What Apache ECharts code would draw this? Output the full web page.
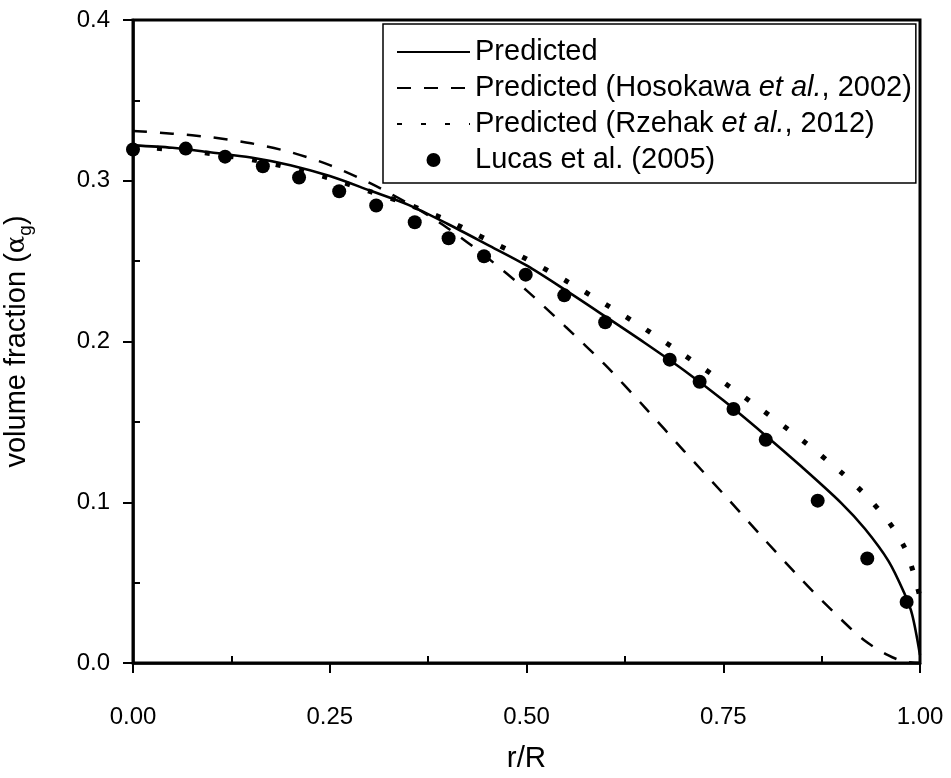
<!DOCTYPE html>
<html>
<head>
<meta charset="utf-8">
<script src="https://cdn.jsdelivr.net/npm/echarts@6/dist/echarts.min.js"></script>
<style>
  html, body { margin: 0; padding: 0; background: #fff; }
  #chart { width: 951px; height: 778px; }
</style>
</head>
<body>
<div id="chart"></div>
<script>
// ---- Data ----
const seriesNames = [
  'Predicted',
  'Predicted (Hosokawa et al., 2002)',
  'Predicted (Rzehak et al., 2012)',
  'Lucas et al. (2005)'
];

const xPred = [0, 0.05, 0.1, 0.15, 0.2, 0.25, 0.3, 0.35, 0.4, 0.45, 0.5, 0.55, 0.6, 0.65, 0.7, 0.75, 0.8, 0.85, 0.9, 0.93, 0.96, 0.98, 0.99, 1.0];
const yPred = [0.322, 0.3205, 0.3176, 0.3145, 0.3097, 0.3029, 0.2941, 0.285, 0.2731, 0.2603, 0.2473, 0.2318, 0.2156, 0.1992, 0.1821, 0.1634, 0.1431, 0.1219, 0.0995, 0.0835, 0.0634, 0.0435, 0.0302, 0.005];

const xHoso = [0, 0.05, 0.1, 0.15, 0.2, 0.25, 0.3, 0.35, 0.4, 0.45, 0.5, 0.55, 0.6, 0.65, 0.7, 0.75, 0.8, 0.85, 0.9, 0.93, 0.96, 0.98, 1.0];
const yHoso = [0.331, 0.3293, 0.327, 0.3233, 0.3178, 0.3097, 0.2988, 0.2858, 0.2705, 0.2522, 0.2318, 0.209, 0.1854, 0.1592, 0.132, 0.1053, 0.0781, 0.0516, 0.027, 0.0138, 0.0047, 0.0009, 0.0];

const xRzehak = [0, 0.05, 0.1, 0.15, 0.2, 0.25, 0.3, 0.35, 0.4, 0.45, 0.5, 0.55, 0.6, 0.65, 0.7, 0.75, 0.8, 0.85, 0.9, 0.93, 0.96, 0.98, 0.99, 1.0];
const yRzehak = [0.321, 0.3195, 0.3168, 0.3132, 0.308, 0.3015, 0.2935, 0.2852, 0.2752, 0.2633, 0.2513, 0.2378, 0.2233, 0.208, 0.1917, 0.1747, 0.1572, 0.1387, 0.1186, 0.1048, 0.088, 0.0722, 0.059, 0.041];

const xLucas = [0, 0.067, 0.117, 0.165, 0.211, 0.262, 0.309, 0.358, 0.401, 0.446, 0.499, 0.548, 0.600, 0.682, 0.720, 0.763, 0.804, 0.870, 0.933, 0.983];
const yLucas = [0.3194, 0.320, 0.315, 0.309, 0.302, 0.2935, 0.2846, 0.2742, 0.2642, 0.253, 0.2416, 0.2287, 0.212, 0.1887, 0.175, 0.158, 0.1389, 0.101, 0.065, 0.038];

const xTicks = { min: 0, max: 1, interval: 0.25, decimals: 2 };
const yTicks = { min: 0, max: 0.4, interval: 0.1, decimals: 1 };

// ---- Build chart ----
function pairs(xs, ys) { return xs.map((x, i) => [x, ys[i]]); }

const FONT = "'Liberation Sans', Arial, sans-serif";
const chart = echarts.init(document.getElementById('chart'), null, { renderer: 'canvas' });

function legendFormatter(name) {
  const m = name.match(/^(.*\()(\S+) (et al\.)(, .*)$/);
  if (m) {
    return '{n|' + m[1] + m[2] + ' }{i|' + m[3] + '}{n|' + m[4] + '}';
  }
  return '{n|' + name + '}';
}

const LEG_FS = 29;
const TICK_FS = 24;
const noDot = { color: 'rgba(0,0,0,0)', borderWidth: 0, opacity: 0 };

const option = {
  backgroundColor: '#fff',
  animation: false,
  textStyle: { fontFamily: FONT, color: '#000' },
  grid: {
    left: 133, right: 31, top: 20, bottom: 115,
    containLabel: false, outerBoundsMode: 'none',
    show: true, borderColor: '#000', borderWidth: 3, backgroundColor: 'transparent'
  },
  legend: {
    orient: 'vertical',
    left: 383, top: 24,
    padding: [13, 4, 8, 13],
    borderColor: '#000', borderWidth: 1.5,
    itemWidth: 73, itemHeight: 14, itemGap: 6,
    data: [
      { name: seriesNames[0], itemStyle: noDot },
      { name: seriesNames[1], itemStyle: noDot },
      { name: seriesNames[2], itemStyle: noDot },
      { name: seriesNames[3] }
    ],
    formatter: legendFormatter,
    textStyle: {
      fontFamily: FONT, color: '#000', fontSize: LEG_FS, lineHeight: 30,
      rich: {
        n: { fontFamily: FONT, fontSize: LEG_FS, color: '#000', lineHeight: 30 },
        i: { fontFamily: FONT, fontSize: LEG_FS, color: '#000', fontStyle: 'italic', lineHeight: 30 }
      }
    }
  },
  xAxis: {
    type: 'value',
    min: xTicks.min, max: xTicks.max, interval: xTicks.interval,
    name: 'r/R', nameLocation: 'middle', nameGap: 81,
    nameTextStyle: { fontFamily: FONT, fontSize: 29.5, color: '#000' },
    axisLine: { show: true, onZero: false, lineStyle: { color: '#000', width: 2.5 } },
    axisTick: { show: true, inside: false, length: 10, lineStyle: { color: '#000', width: 2 } },
    minorTick: { show: true, splitNumber: 2, length: -7, lineStyle: { color: '#000', width: 2 } },
    axisLabel: {
      margin: 42, fontFamily: FONT, fontSize: TICK_FS, color: '#000',
      formatter: v => v.toFixed(xTicks.decimals)
    },
    splitLine: { show: false }
  },
  yAxis: {
    type: 'value',
    min: yTicks.min, max: yTicks.max, interval: yTicks.interval,
    name: '{a|volume fraction (}{b|α}{s|g}{a|)}',
    nameLocation: 'middle', nameGap: 98,
    nameTextStyle: {
      fontFamily: FONT, fontSize: 29, color: '#000',
      rich: {
        a: { fontFamily: FONT, fontSize: 29, color: '#000', lineHeight: 36 },
        b: { fontFamily: 'DejaVu Serif, serif', fontSize: 26, color: '#000', lineHeight: 36 },
        s: { fontFamily: FONT, fontSize: 19, color: '#000', verticalAlign: 'bottom', lineHeight: 19 }
      }
    },
    axisLine: { show: true, onZero: false, lineStyle: { color: '#000', width: 2.5 } },
    axisTick: { show: true, inside: false, length: 10, lineStyle: { color: '#000', width: 2 } },
    minorTick: { show: true, splitNumber: 2, length: -7, lineStyle: { color: '#000', width: 2 } },
    axisLabel: {
      margin: 23, fontFamily: FONT, fontSize: TICK_FS, color: '#000',
      formatter: v => v.toFixed(yTicks.decimals)
    },
    splitLine: { show: false }
  },
  series: [
    {
      name: seriesNames[0], type: 'line', data: pairs(xPred, yPred),
      symbol: 'none', showSymbol: false, smooth: 0.3, z: 3,
      itemStyle: noDot,
      lineStyle: { color: '#000', width: 2.6, type: 'solid' }
    },
    {
      name: seriesNames[1], type: 'line', data: pairs(xHoso, yHoso),
      symbol: 'none', showSymbol: false, smooth: 0.3, z: 2,
      itemStyle: noDot,
      lineStyle: { color: '#000', width: 2.5, type: [14, 13] }
    },
    {
      name: seriesNames[2], type: 'line', data: pairs(xRzehak, yRzehak),
      symbol: 'none', showSymbol: false, smooth: 0.3, z: 2,
      itemStyle: noDot,
      lineStyle: { color: '#000', width: 5, type: [5, 19] }
    },
    {
      name: seriesNames[3], type: 'scatter', data: pairs(xLucas, yLucas),
      symbol: 'circle', symbolSize: 14, z: 5,
      itemStyle: { color: '#000', opacity: 1 }
    }
  ]
};
chart.setOption(option);
</script>
</body>
</html>
